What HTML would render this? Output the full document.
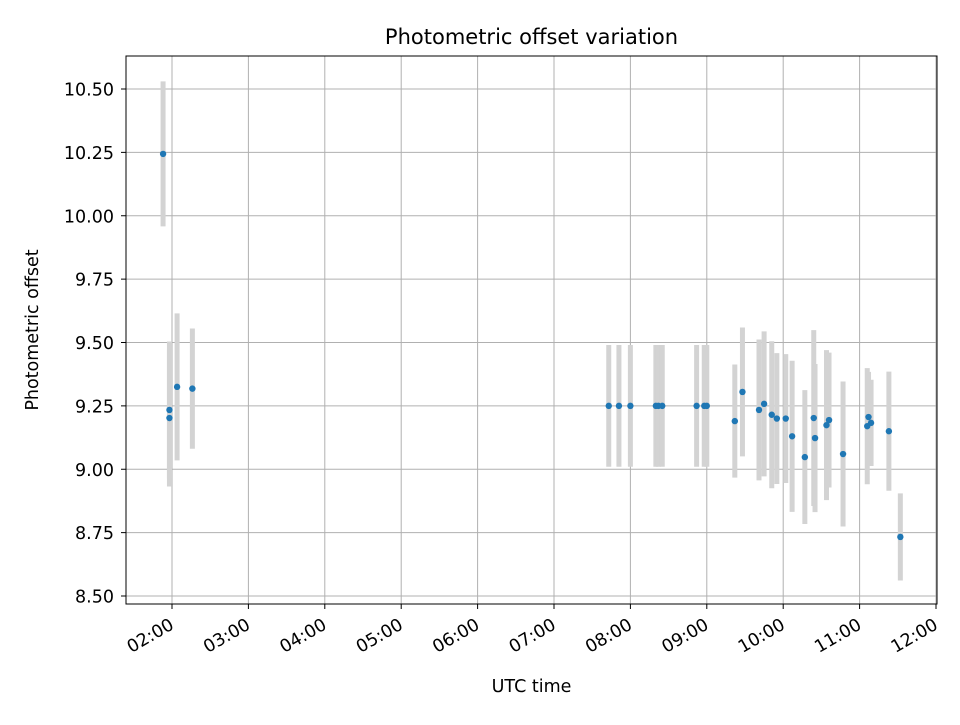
<!DOCTYPE html>
<html><head><meta charset="utf-8"><style>
body{margin:0;background:#fff;font-family:"Liberation Sans","DejaVu Sans",sans-serif;}
svg text{font-family:"DejaVu Sans","Liberation Sans",sans-serif;fill:#000;}
</style></head><body>
<svg id="chart" width="960" height="720" xmlns="http://www.w3.org/2000/svg"></svg>
<script>
const times=["01:53","01:58","01:58","02:04","02:16","07:43","07:51","08:00","08:20","08:22","08:25","08:52","08:58","09:00","09:22","09:28","09:41","09:45","09:51","09:55","10:02","10:07","10:17","10:24","10:25","10:34","10:36","10:47","11:06","11:07","11:09","11:23","11:32"];
const values=[10.244,9.234,9.202,9.325,9.318,9.25,9.25,9.25,9.25,9.25,9.25,9.25,9.25,9.25,9.19,9.305,9.234,9.258,9.215,9.2,9.2,9.13,9.048,9.202,9.123,9.174,9.194,9.06,9.17,9.206,9.183,9.15,8.733];
const errors=[0.286,0.27,0.27,0.29,0.237,0.24,0.24,0.24,0.24,0.24,0.24,0.24,0.24,0.24,0.223,0.254,0.278,0.286,0.29,0.258,0.254,0.298,0.264,0.347,0.292,0.296,0.266,0.286,0.229,0.178,0.17,0.235,0.172];
const yTicks=[8.5,8.75,9.0,9.25,9.5,9.75,10.0,10.25,10.5];
const xTicks=[2,3,4,5,6,7,8,9,10,11,12];
const svg=document.getElementById('chart');
const NS="http://www.w3.org/2000/svg";
const L=126,R=937,T=56,B=604;
const xs=h=>172+(h-2)*76.4;
const ys=v=>89+(10.5-v)*253.5;
const toH=s=>{const p=s.split(':');return +p[0]+ +p[1]/60;};
function mk(tag,at,txt){const e=document.createElementNS(NS,tag);for(const k in at)e.setAttribute(k,at[k]);if(txt!=null)e.textContent=txt;svg.appendChild(e);return e;}
xTicks.forEach(h=>{const x=xs(h);
 const g=mk('line',{x1:x,x2:x,y1:T,y2:B,stroke:'#b0b0b0','stroke-width':1});
 
 const t=mk('line',{x1:x,x2:x,y1:B,y2:B+5,stroke:'#000'});
 
 const lab=(h<10?'0':'')+h+':00';
 const ax=x+3,ay=B+24;
 const tx=mk('text',{x:ax,y:ay,'font-size':17.5,'text-anchor':'end',transform:`rotate(-30 ${ax} ${ay})`},lab);
 
});
yTicks.forEach(v=>{const y=ys(v);
 const g=mk('line',{x1:L,x2:R,y1:y,y2:y,stroke:'#b0b0b0','stroke-width':1});
 
 const t=mk('line',{x1:L-5,x2:L,y1:y,y2:y,stroke:'#000'});
 
 const tx=mk('text',{x:L-12,y:y+6.5,'font-size':17.5,'text-anchor':'end'},v.toFixed(2));
 
});
times.forEach((s,i)=>{const x=xs(toH(s));
 const e=mk('line',{x1:x,x2:x,y1:ys(values[i]+errors[i]),y2:ys(values[i]-errors[i]),stroke:'#d3d3d3','stroke-width':5});
 
});
times.forEach((s,i)=>{
 const c=mk('circle',{cx:xs(toH(s)),cy:ys(values[i]),r:3.2,fill:'#1f77b4'});
 
});
const fr=mk('rect',{x:L,y:T,width:R-L,height:B-T,fill:'none',stroke:'#000','stroke-width':1});

const ti=mk('text',{x:(L+R)/2,y:44,'font-size':21,'text-anchor':'middle'},'Photometric offset variation');

const xt=mk('text',{x:(L+R)/2,y:692,'font-size':17.5,'text-anchor':'middle'},'UTC time');

const yt=mk('text',{x:38,y:330,'font-size':17.5,'text-anchor':'middle',transform:'rotate(-90 38 330)'},'Photometric offset');

</script>
</body></html>
